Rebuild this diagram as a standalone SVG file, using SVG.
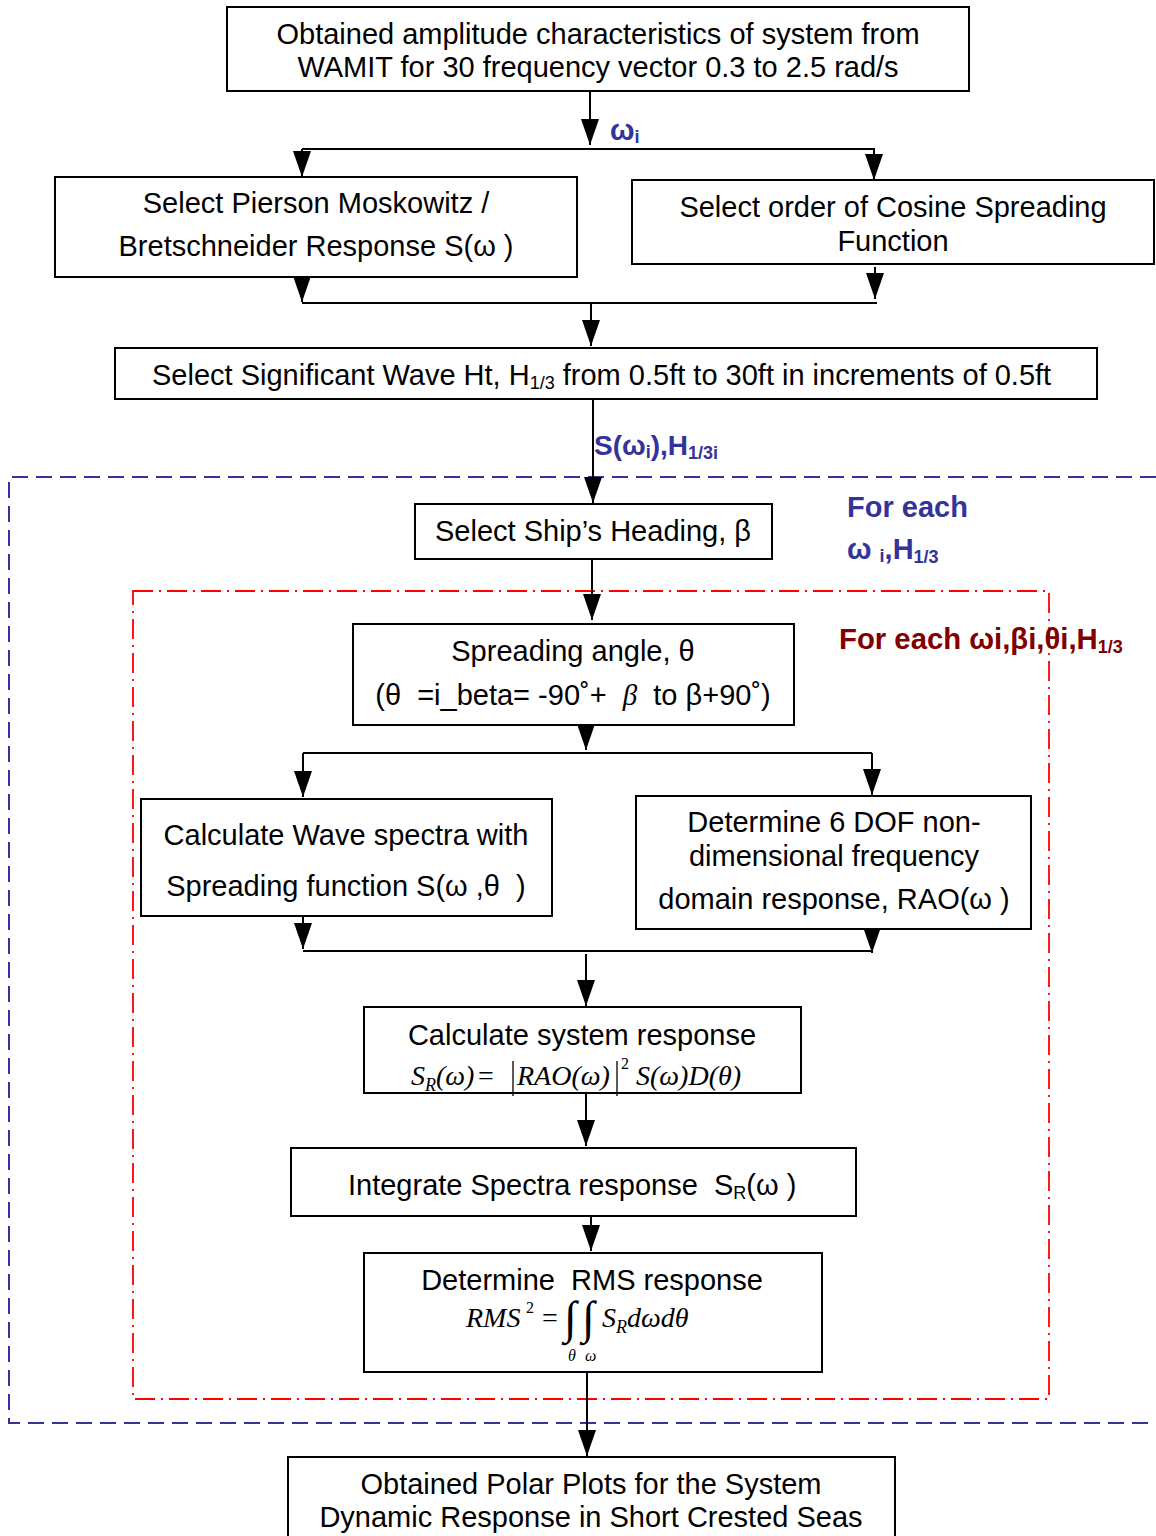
<svg xmlns="http://www.w3.org/2000/svg" width="1156" height="1536" viewBox="0 0 1156 1536">
<style>
.box{fill:#fff;stroke:#000;stroke-width:2}
.t{font-family:"Liberation Sans",Arial,sans-serif;font-size:29px;fill:#000;white-space:pre}
.c{text-anchor:middle}
.m{font-family:"Liberation Serif","Times New Roman",serif;font-style:italic;fill:#000}
.conn{stroke:#000;stroke-width:2;fill:none}
.blue{font-family:"Liberation Sans",Arial,sans-serif;font-weight:bold;fill:#333399}
.red{font-family:"Liberation Sans",Arial,sans-serif;font-weight:bold;fill:#800000}
</style>
<defs>
<marker id="ah" markerUnits="userSpaceOnUse" markerWidth="26" markerHeight="18" viewBox="0 0 26 18" refX="26" refY="9" orient="auto">
<path d="M0,0 L26,9 L0,18 z" fill="#000"/>
</marker>
</defs>
<rect width="1156" height="1536" fill="#fff"/>

<g id="loops">
<path d="M1156,477 H9 V1423 H1156" fill="none" stroke="#333399" stroke-width="2" stroke-dasharray="16,8"/>
<rect x="133" y="591" width="916" height="808" fill="none" stroke="#ff0000" stroke-width="1.8" stroke-dasharray="20,6,2,6"/>
</g>

<g id="connectors">
<line class="conn" x1="590" y1="92" x2="590" y2="145" marker-end="url(#ah)"/>
<polyline class="conn" points="302,149 874,149 874,180" marker-end="url(#ah)"/>
<line class="conn" x1="302" y1="149" x2="302" y2="177" marker-end="url(#ah)"/>
<line class="conn" x1="302" y1="280" x2="302" y2="302" marker-end="url(#ah)"/>
<line class="conn" x1="875" y1="267" x2="875" y2="299" marker-end="url(#ah)"/>
<line class="conn" x1="302" y1="303" x2="877" y2="303"/>
<line class="conn" x1="591" y1="303" x2="591" y2="346" marker-end="url(#ah)"/>
<line class="conn" x1="593" y1="399" x2="593" y2="503" marker-end="url(#ah)"/>
<line class="conn" x1="592" y1="559" x2="592" y2="620" marker-end="url(#ah)"/>
<line class="conn" x1="586" y1="725" x2="586" y2="750" marker-end="url(#ah)"/>
<line class="conn" x1="303" y1="753" x2="872" y2="753"/>
<line class="conn" x1="303" y1="753" x2="303" y2="797" marker-end="url(#ah)"/>
<line class="conn" x1="872" y1="753" x2="872" y2="795" marker-end="url(#ah)"/>
<line class="conn" x1="303" y1="892" x2="303" y2="949" marker-end="url(#ah)"/>
<line class="conn" x1="872" y1="917" x2="872" y2="953" marker-end="url(#ah)"/>
<line class="conn" x1="303" y1="951" x2="872" y2="951"/>
<line class="conn" x1="586" y1="954" x2="586" y2="1006" marker-end="url(#ah)"/>
<line class="conn" x1="586" y1="1093" x2="586" y2="1146" marker-end="url(#ah)"/>
<line class="conn" x1="591" y1="1216" x2="591" y2="1251" marker-end="url(#ah)"/>
<line class="conn" x1="587" y1="1372" x2="587" y2="1456" marker-end="url(#ah)"/>
<text class="blue" x="610" y="140" style="font-size:29px">ω<tspan style="font-size:18px" dy="3">i</tspan></text>
<text class="blue" x="594" y="455" style="font-size:28px">S(ω<tspan style="font-size:18px" dy="3">i</tspan><tspan dy="-3">),H</tspan><tspan style="font-size:18px" dy="4">1/3i</tspan></text>
</g>

<g id="label-outer">
<text class="blue" x="847" y="517" style="font-size:29px">For each</text>
<text class="blue" x="847" y="559" style="font-size:29px">ω <tspan style="font-size:18px" dy="3">i</tspan><tspan dy="-3">,H</tspan><tspan style="font-size:18px" dy="4">1/3</tspan></text>
</g>
<g id="label-inner">
<text class="red" x="839" y="649" style="font-size:29.3px">For each ωi,βi,θi,H<tspan style="font-size:18px" dy="4">1/3</tspan></text>
</g>

<g id="n1">
<rect class="box" x="227" y="7" width="742" height="84"/>
<text class="t c" x="598" y="44">Obtained amplitude characteristics of system from</text>
<text class="t c" x="598" y="77">WAMIT for 30 frequency vector 0.3 to 2.5 rad/s</text>
</g>
<g id="n2">
<rect class="box" x="55" y="177" width="522" height="100"/>
<text class="t c" x="316" y="213">Select Pierson Moskowitz /</text>
<text class="t c" x="316" y="256">Bretschneider Response S(ω )</text>
</g>
<g id="n3">
<rect class="box" x="632" y="180" width="522" height="84"/>
<text class="t c" x="893" y="217">Select order of Cosine Spreading</text>
<text class="t c" x="893" y="251">Function</text>
</g>
<g id="n4">
<rect class="box" x="115" y="348" width="982" height="51"/>
<text class="t" x="152" y="385">Select Significant Wave Ht, H<tspan style="font-size:18px" dy="4">1/3</tspan><tspan dy="-4"> from 0.5ft to 30ft in increments of 0.5ft</tspan></text>
</g>
<g id="n5">
<rect class="box" x="415" y="504" width="357" height="55"/>
<text class="t c" x="593" y="541">Select Ship’s Heading, β</text>
</g>
<g id="n6">
<rect class="box" x="353" y="624" width="441" height="101"/>
<text class="t c" x="573" y="661">Spreading angle, θ</text>
<text class="t c" x="573" y="705">(θ  =i_beta= -90˚+  <tspan style="font-family:'Liberation Serif',serif;font-style:italic">β</tspan>  to β+90˚)</text>
</g>
<g id="n7">
<rect class="box" x="141" y="799" width="411" height="117"/>
<text class="t c" x="346" y="845">Calculate Wave spectra with</text>
<text class="t c" x="346" y="896">Spreading function S(ω ,θ  )</text>
</g>
<g id="n8">
<rect class="box" x="636" y="796" width="395" height="133"/>
<text class="t c" x="834" y="832">Determine 6 DOF non-</text>
<text class="t c" x="834" y="866">dimensional frequency</text>
<text class="t c" x="834" y="909">domain response, RAO(ω )</text>
</g>
<g id="n9">
<rect class="box" x="364" y="1007" width="437" height="86"/>
<text class="t c" x="582" y="1045">Calculate system response</text>
<text class="m" x="411" y="1085" style="font-size:28px">S<tspan style="font-size:18px" dy="6">R</tspan><tspan dy="-6">(ω)</tspan></text>
<text class="m" x="478" y="1085" style="font-size:28px;font-style:normal">=</text>
<line x1="513" y1="1061" x2="513" y2="1096" stroke="#000" stroke-width="1.3"/>
<text class="m" x="517" y="1085" style="font-size:28px">RAO(ω)</text>
<line x1="617" y1="1061" x2="617" y2="1096" stroke="#000" stroke-width="1.3"/>
<text class="m" x="621" y="1069" style="font-size:16px;font-style:normal">2</text>
<text class="m" x="636" y="1085" style="font-size:28px">S(ω)D(θ)</text>
</g>
<g id="n10">
<rect class="box" x="291" y="1148" width="565" height="68"/>
<text class="t" x="348" y="1195">Integrate Spectra response  S<tspan style="font-size:18px" dy="4">R</tspan><tspan dy="-4">(ω )</tspan></text>
</g>
<g id="n11">
<rect class="box" x="364" y="1253" width="458" height="119"/>
<text class="t c" x="592" y="1290">Determine  RMS response</text>
<text class="m" x="466" y="1327" style="font-size:28px">RMS</text>
<text class="m" x="526" y="1313" style="font-size:16px;font-style:normal">2</text>
<text class="m" x="542" y="1327" style="font-size:28px;font-style:normal">=</text>
<text class="m" x="564" y="1333" style="font-size:46px;font-style:normal">∫</text>
<text class="m" x="582" y="1333" style="font-size:46px;font-style:normal">∫</text>
<text class="m" x="602" y="1327" style="font-size:28px">S<tspan style="font-size:18px" dy="6">R</tspan><tspan dy="-6">dωdθ</tspan></text>
<text class="m" x="568" y="1361" style="font-size:16px">θ</text>
<text class="m" x="585" y="1361" style="font-size:16px">ω</text>
</g>
<g id="n12">
<rect class="box" x="288" y="1457" width="607" height="90"/>
<text class="t c" x="591" y="1494">Obtained Polar Plots for the System</text>
<text class="t c" x="591" y="1527">Dynamic Response in Short Crested Seas</text>
</g>
</svg>
